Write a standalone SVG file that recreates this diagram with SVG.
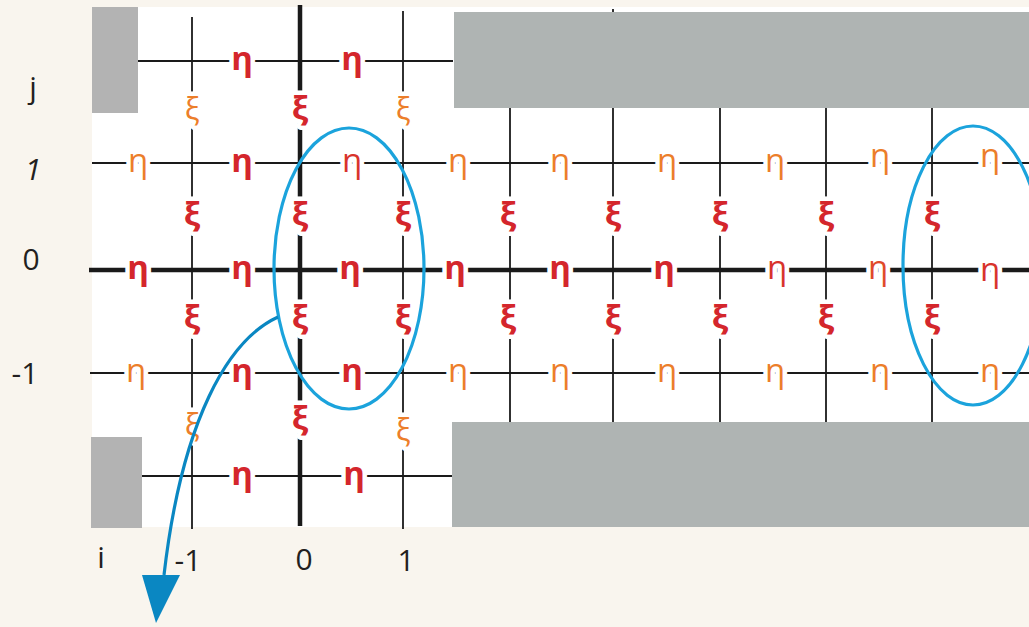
<svg xmlns="http://www.w3.org/2000/svg" width="1029" height="627" viewBox="0 0 1029 627">
<style>
.ln{stroke:#1a1a1a;stroke-width:1.8;fill:none}
.thk{stroke:#1a1a1a;stroke-width:4.5;fill:none}
.g{font-family:"Open Sans","DejaVu Sans",sans-serif;text-anchor:middle;stroke:#fff;stroke-width:9;paint-order:stroke;stroke-linejoin:round}
.eb{font-size:33px;font-weight:bold;fill:#d4262c}
.er{font-size:33px;fill:#d8332c}
.eo{font-size:33px;fill:#ec7e2a}
.xb{font-size:33px;font-weight:bold;fill:#d4262c}
.xo{font-size:31px;fill:#ec7e2a}
.ax{font-family:"Open Sans","Liberation Sans",sans-serif;font-size:30px;fill:#231f20;text-anchor:middle}
.ell{fill:none;stroke:#1ba3dc;stroke-width:3.2}
</style>
<rect x="0" y="0" width="1029" height="627" fill="#f9f5ee"/>
<rect x="92" y="7" width="937" height="520" fill="#ffffff"/>
<g id="grid">
<line class="ln" x1="138" y1="61" x2="453" y2="61"/>
<line class="ln" x1="92" y1="163" x2="1029" y2="163"/>
<line class="thk" x1="89" y1="270" x2="1029" y2="270"/>
<line class="ln" x1="90" y1="373" x2="1029" y2="373"/>
<line class="ln" x1="142" y1="476" x2="452" y2="476"/>
<line class="ln" x1="192" y1="17" x2="192" y2="529"/>
<line class="thk" x1="300" y1="5" x2="300" y2="526"/>
<line class="ln" x1="403" y1="11" x2="403" y2="529"/>
<line class="ln" x1="510" y1="108" x2="510" y2="422"/>
<line class="ln" x1="613" y1="9" x2="613" y2="422"/>
<line class="ln" x1="720" y1="108" x2="720" y2="422"/>
<line class="ln" x1="826" y1="108" x2="826" y2="422"/>
<line class="ln" x1="932" y1="108" x2="932" y2="422"/>
</g>
<g id="walls">
<rect x="92" y="7" width="46" height="106" fill="#b3b3b3"/>
<rect x="91" y="437" width="51" height="91" fill="#b3b3b3"/>
<rect x="454" y="12" width="575" height="96" fill="#afb4b3"/>
<rect x="452" y="422" width="577" height="105" fill="#afb4b3"/>
</g>
<g id="labels-row-j" class="g">
<text class="eb" x="242" y="70">η</text>
<text class="eb" x="352" y="70">η</text>
</g>
<g id="labels-j-1" class="g">
<text class="xo" x="192" y="120">ξ</text>
<text class="xb" x="300" y="120">ξ</text>
<text class="xo" x="403" y="120">ξ</text>
</g>
<g id="labels-row-1" class="g">
<text class="eo" x="138" y="172">η</text>
<text class="eb" x="242" y="172">η</text>
<text class="er" x="352" y="172">η</text>
<text class="eo" x="458" y="172">η</text>
<text class="eo" x="560" y="172">η</text>
<text class="eo" x="667" y="172">η</text>
<text class="eo" x="775" y="172">η</text>
<text class="eo" x="880" y="167">η</text>
<text class="eo" x="990" y="167">η</text>
</g>
<g id="labels-1-0" class="g">
<text class="xb" x="192" y="226">ξ</text>
<text class="xb" x="300" y="226">ξ</text>
<text class="xb" x="403" y="226">ξ</text>
<text class="xb" x="508" y="226">ξ</text>
<text class="xb" x="613" y="226">ξ</text>
<text class="xb" x="720" y="226">ξ</text>
<text class="xb" x="826" y="226">ξ</text>
<text class="xb" x="932" y="226">ξ</text>
</g>
<g id="labels-row-0" class="g">
<text class="eb" x="138" y="279">η</text>
<text class="eb" x="242" y="279">η</text>
<text class="eb" x="350" y="279">η</text>
<text class="eb" x="455" y="279">η</text>
<text class="eb" x="560" y="279">η</text>
<text class="eb" x="664" y="279">η</text>
<text class="er" x="777" y="279">η</text>
<text class="er" x="878" y="279" style="fill:#e04a2a">η</text>
<text class="er" x="990" y="281">η</text>
</g>
<g id="labels-0-m1" class="g">
<text class="xb" x="192" y="329">ξ</text>
<text class="xb" x="300" y="329">ξ</text>
<text class="xb" x="403" y="329">ξ</text>
<text class="xb" x="508" y="329">ξ</text>
<text class="xb" x="613" y="329">ξ</text>
<text class="xb" x="720" y="329">ξ</text>
<text class="xb" x="826" y="329">ξ</text>
<text class="xb" x="932" y="329">ξ</text>
</g>
<g id="labels-row-m1" class="g">
<text class="eo" x="136" y="382">η</text>
<text class="eb" x="242" y="382">η</text>
<text class="eb" x="352" y="382">η</text>
<text class="eo" x="458" y="382">η</text>
<text class="eo" x="560" y="382">η</text>
<text class="eo" x="667" y="382">η</text>
<text class="eo" x="775" y="382">η</text>
<text class="eo" x="880" y="382">η</text>
<text class="eo" x="990" y="382">η</text>
</g>
<g id="labels-m1-b" class="g">
<text class="xo" x="192" y="436">ξ</text>
<text class="xb" x="300" y="430">ξ</text>
<text class="xo" x="403" y="441">ξ</text>
</g>
<g id="labels-row-b" class="g">
<text class="eb" x="242" y="485">η</text>
<text class="eb" x="354" y="485">η</text>
</g>
<g id="axes">
<text class="ax" x="33" y="98">j</text>
<text class="ax" x="33" y="180" font-style="italic">1</text>
<text class="ax" x="31" y="270">0</text>
<text class="ax" x="25" y="384">-1</text>
<text class="ax" x="101" y="568">i</text>
<text class="ax" x="188" y="571">-1</text>
<text class="ax" x="304" y="570">0</text>
<text class="ax" x="406" y="571">1</text>
</g>
<g id="ellipses">
<ellipse class="ell" cx="349" cy="268.5" rx="75" ry="140.5"/>
<ellipse class="ell" cx="973" cy="265.5" rx="70" ry="139.5"/>
</g>
<g id="connectors">
<path d="M278,317 C228,340 182,420 164,575" fill="none" stroke="#0a87c2" stroke-width="3.2"/>
<polygon points="142,575 180,575 156,623" fill="#0a87c2"/>
</g>
</svg>
